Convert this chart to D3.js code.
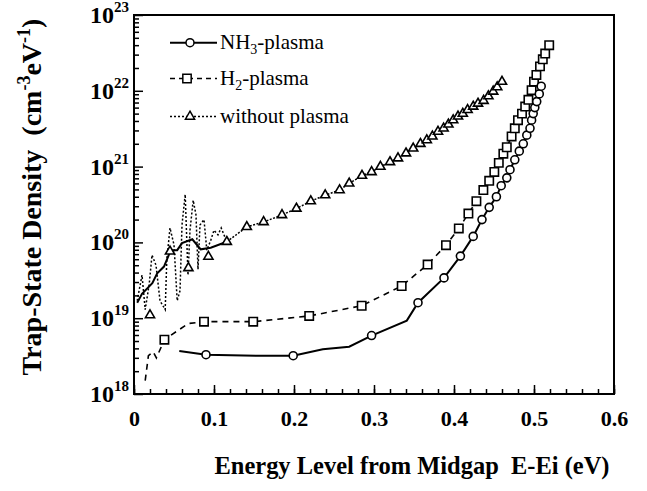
<!DOCTYPE html>
<meta charset="utf-8">
<body style="margin:0;background-color:white;">
<svg width="647" height="491"></svg>
<script src="https://cdnjs.cloudflare.com/ajax/libs/d3/7.8.5/d3.min.js"></script>
<script>

// NH3-plasma (solid line, circles on some points)
var nh3E = [0.0566, 0.09, 0.153, 0.199, 0.236, 0.269, 0.297, 0.341, 0.355, 0.3875, 0.408, 0.424, 0.435, 0.444,
            0.453, 0.459, 0.466, 0.470, 0.476, 0.4816, 0.4866, 0.491, 0.495, 0.497, 0.499, 0.501, 0.5034, 0.5066, 0.509];
var nh3N = [3.7e18, 3.3e18, 3.2e18, 3.2e18, 3.9e18, 4.2e18, 5.9e18, 9.3e18, 1.6e19, 3.4e19, 6.6e19, 1.2e20, 2.0e20, 2.9e20,
            4.0e20, 5.6e20, 7.1e20, 9.1e20, 1.23e21, 1.6e21, 2.0e21, 2.6e21, 3.2e21, 4.1e21, 5.0e21, 6.0e21, 7.2e21, 9.1e21, 1.15e22];
var nh3NoMarker = [0.0566, 0.153, 0.236, 0.269, 0.341];

// H2-plasma (dashed line, squares)
var h2E = [0.014, 0.018, 0.024, 0.028, 0.038, 0.055, 0.068, 0.0875, 0.149, 0.219, 0.2846, 0.3346, 0.367, 0.39, 0.406,
           0.418, 0.428, 0.4367, 0.444, 0.4504, 0.456, 0.4617, 0.466, 0.472, 0.476, 0.480, 0.485, 0.489, 0.493,
           0.497, 0.500, 0.503, 0.5075, 0.511, 0.514, 0.519];
var h2N = [1.5e18, 3.2e18, 3.6e18, 3.0e18, 5.2e18, 6.9e18, 8.5e18, 9.0e18, 9.0e18, 1.07e19, 1.46e19, 2.66e19, 5.1e19, 9.2e19, 1.53e20,
           2.4e20, 3.5e20, 4.9e20, 6.5e20, 8.5e20, 1.12e21, 1.48e21, 1.8e21, 2.5e21, 3.2e21, 4.1e21, 5.0e21, 6.2e21, 7.6e21,
           1.02e22, 1.32e22, 1.62e22, 2.1e22, 2.6e22, 3.1e22, 4.0e22];
var h2NoMarker = [0.014, 0.018, 0.024, 0.028, 0.055, 0.068];

// without plasma (dotted line, triangles)
var noE = [0.02, 0.045, 0.068, 0.093, 0.116, 0.141, 0.162, 0.185, 0.203, 0.221, 0.239, 0.257, 0.269, 0.285, 0.297,
           0.308, 0.320, 0.330, 0.340, 0.349, 0.358, 0.366, 0.373, 0.380, 0.387, 0.393, 0.399, 0.405, 0.411, 0.417,
           0.424, 0.430, 0.437, 0.443, 0.449, 0.454, 0.460];
var noN = [1.1e19, 7.6e19, 4.6e19, 6.5e19, 1.02e20, 1.6e20, 1.86e20, 2.3e20, 2.8e20, 3.5e20, 4.2e20, 4.9e20, 6.0e20, 7.6e20, 8.5e20,
           1.0e21, 1.15e21, 1.29e21, 1.5e21, 1.74e21, 2.0e21, 2.24e21, 2.5e21, 2.9e21, 3.2e21, 3.6e21, 4.1e21, 4.6e21, 5.0e21, 5.6e21,
           6.2e21, 6.8e21, 7.4e21, 8.5e21, 9.8e21, 1.12e22, 1.32e22];

// noisy low-energy part (dotted) and the short solid trace there
var noisyE = [0.004, 0.010, 0.014, 0.019, 0.0225, 0.0275, 0.0325, 0.039, 0.041, 0.045, 0.050, 0.054, 0.0575, 0.060, 0.064,
              0.0675, 0.070, 0.074, 0.0775, 0.080, 0.0825, 0.0875, 0.091, 0.096, 0.100, 0.105, 0.109, 0.116];
var noisyN = [1.7e19, 3.7e19, 1.3e19, 2.8e19, 6.8e19, 5.0e19, 1.7e19, 1.3e19, 5.9e19, 1.55e20, 9.3e19, 1.7e19, 2.3e19, 1.7e20, 4.3e20,
              3.7e19, 1.45e20, 3.6e20, 2.3e20, 4.4e19, 1.7e20, 2.0e20, 7.9e19, 1.07e20, 1.45e20, 1.26e20, 1.55e20, 1.02e20];
var solidE = [0.004, 0.010, 0.0229, 0.029, 0.0375, 0.046, 0.054, 0.060, 0.0729, 0.0834, 0.0959, 0.116];
var solidN = [1.6e19, 2.1e19, 2.9e19, 3.9e19, 4.8e19, 7.9e19, 7.9e19, 9.8e19, 1.1e20, 8.1e19, 8.5e19, 1.02e20];

var xTicks = [0, 0.1, 0.2, 0.3, 0.4, 0.5, 0.6];
var xTickLabels = ["0", "0.1", "0.2", "0.3", "0.4", "0.5", "0.6"];
var yExponents = [18, 19, 20, 21, 22, 23];
var legendNames = ["NH3-plasma", "H2-plasma", "without plasma"];

var svg = d3.select("svg");
var serif = "'Liberation Serif', 'Times New Roman', serif";

var x = d3.scaleLinear().domain([0, 0.6]).range([134, 614]);
var y = d3.scaleLog().domain([1e18, 1e23]).range([394, 15]);

// x axis, ticks pointing in
var xMinor = d3.range(0, 0.601, 0.02);
svg.append('g')
   .attr('transform', 'translate(0,394)')
   .call(d3.axisBottom(x).tickValues(xMinor).tickSize(-5).tickFormat(''))
   .call(function(g) { g.select('.domain').remove(); });
svg.append('g')
   .attr('transform', 'translate(0,394)')
   .call(d3.axisBottom(x).tickValues(xTicks).tickSize(-9).tickPadding(16)
          .tickFormat(function(d, i) { return xTickLabels[i]; }))
   .call(function(g) {
     g.select('.domain').remove();
     g.selectAll('text').attr('font-family', serif).attr('font-size', 22)
      .attr('font-weight', 'bold').attr('fill', 'black');
   });
svg.selectAll('.tick line').attr('stroke', 'black').attr('stroke-width', 1.5);

// y axis, log minors
var yMajor = yExponents.map(function(e) { return Math.pow(10, e); });
var yMinor = [];
yExponents.slice(0, -1).forEach(function(e) {
  for (var k = 2; k < 10; k++) yMinor.push(k * Math.pow(10, e));
});
svg.append('g')
   .attr('transform', 'translate(134,0)')
   .call(d3.axisLeft(y).tickValues(yMinor).tickSize(-5).tickFormat(''))
   .call(function(g) { g.select('.domain').remove(); });
svg.append('g')
   .attr('transform', 'translate(134,0)')
   .call(d3.axisLeft(y).tickValues(yMajor).tickSize(-9).tickFormat(''))
   .call(function(g) { g.select('.domain').remove(); });
svg.selectAll('.tick line').attr('stroke', 'black').attr('stroke-width', 1.5);

var yLab = svg.append('g').selectAll('text')
   .data(yExponents).enter().append('text')
   .attr('x', 129)
   .attr('y', function(d) { return y(Math.pow(10, d)) + 8; })
   .attr('text-anchor', 'end')
   .attr('font-family', serif).attr('font-weight', 'bold').attr('fill', 'black');
yLab.append('tspan').attr('font-size', 24).text('10');
yLab.append('tspan').attr('font-size', 15).attr('dy', -11).text(function(d) { return d; });

// frame
svg.append('rect')
   .attr('x', 134).attr('y', 15).attr('width', 480).attr('height', 379)
   .attr('fill', 'none').attr('stroke', 'black').attr('stroke-width', 2);

var line = d3.line().x(function(d) { return x(d[0]); }).y(function(d) { return y(d[1]); });
var plot = svg.append('g');

plot.append('path').datum(d3.zip(noisyE, noisyN)).attr('d', line)
    .attr('fill', 'none').attr('stroke', 'black').attr('stroke-width', 1.5).attr('stroke-dasharray', '2,2');
plot.append('path').datum(d3.zip(solidE, solidN)).attr('d', line)
    .attr('fill', 'none').attr('stroke', 'black').attr('stroke-width', 2);
plot.append('path').datum(d3.zip(noE, noN).slice(4)).attr('d', line)
    .attr('fill', 'none').attr('stroke', 'black').attr('stroke-width', 1.5).attr('stroke-dasharray', '2,1.5');
plot.append('path').datum(d3.zip(h2E, h2N)).attr('d', line)
    .attr('fill', 'none').attr('stroke', 'black').attr('stroke-width', 1.6).attr('stroke-dasharray', '6,5');
plot.append('path').datum(d3.zip(nh3E, nh3N)).attr('d', line)
    .attr('fill', 'none').attr('stroke', 'black').attr('stroke-width', 2);

var triangle = d3.symbol().type(d3.symbolTriangle).size(36);
var square = d3.symbol().type(d3.symbolSquare).size(70);

plot.selectAll('.tri').data(d3.zip(noE, noN)).enter().append('path')
    .attr('d', triangle)
    .attr('transform', function(d) { return 'translate(' + x(d[0]) + ',' + y(d[1]) + ')'; })
    .attr('fill', 'white').attr('stroke', 'black').attr('stroke-width', 1.6);
plot.selectAll('.sq').data(d3.zip(h2E, h2N).filter(function(d) { return h2NoMarker.indexOf(d[0]) < 0; }))
    .enter().append('path')
    .attr('d', square)
    .attr('transform', function(d) { return 'translate(' + x(d[0]) + ',' + y(d[1]) + ')'; })
    .attr('fill', 'white').attr('stroke', 'black').attr('stroke-width', 1.6);
plot.selectAll('.circ').data(d3.zip(nh3E, nh3N).filter(function(d) { return nh3NoMarker.indexOf(d[0]) < 0; }))
    .enter().append('circle')
    .attr('cx', function(d) { return x(d[0]); })
    .attr('cy', function(d) { return y(d[1]); })
    .attr('r', 4)
    .attr('fill', 'white').attr('stroke', 'black').attr('stroke-width', 1.6);

// legend
var legend = svg.append('g');
var rows = [42.7, 78.5, 116.5];
legend.append('line').attr('x1', 170).attr('x2', 217).attr('y1', rows[0]).attr('y2', rows[0])
      .attr('stroke', 'black').attr('stroke-width', 2);
legend.append('circle').attr('cx', 190).attr('cy', rows[0]).attr('r', 4)
      .attr('fill', 'white').attr('stroke', 'black').attr('stroke-width', 1.5);
legend.append('line').attr('x1', 170).attr('x2', 217).attr('y1', rows[1]).attr('y2', rows[1])
      .attr('stroke', 'black').attr('stroke-width', 1.6).attr('stroke-dasharray', '5,4');
legend.append('path').attr('d', square).attr('transform', 'translate(187,' + rows[1] + ')')
      .attr('fill', 'white').attr('stroke', 'black').attr('stroke-width', 1.5);
legend.append('line').attr('x1', 170).attr('x2', 217).attr('y1', rows[2]).attr('y2', rows[2])
      .attr('stroke', 'black').attr('stroke-width', 1.5).attr('stroke-dasharray', '2,2');
legend.append('path').attr('d', triangle).attr('transform', 'translate(190,' + rows[2] + ')')
      .attr('fill', 'white').attr('stroke', 'black').attr('stroke-width', 1.5);

var legTxt = legend.selectAll('text').data(legendNames).enter().append('text')
      .attr('x', 220).attr('y', function(d, i) { return rows[i] + 6; })
      .attr('font-family', serif).attr('font-size', 21).attr('fill', 'black');
legTxt.each(function(d) {
  var t = d3.select(this);
  var m = d.match(/^([A-Z]+)(\d)(.*)$/);
  if (m) {
    t.append('tspan').text(m[1]);
    t.append('tspan').attr('font-size', 14).attr('dy', 5).text(m[2]);
    t.append('tspan').attr('dy', -5).text(m[3]);
  } else {
    t.text(d);
  }
});

// axis titles
svg.append('text')
   .attr('x', 412).attr('y', 474)
   .attr('text-anchor', 'middle')
   .attr('font-family', serif).attr('font-size', 25).attr('font-weight', 'bold')
   .attr('textLength', 395).attr('lengthAdjust', 'spacingAndGlyphs')
   .style('white-space', 'pre')
   .text('Energy Level from Midgap  E-Ei (eV)');

var yt = svg.append('text')
   .attr('transform', 'translate(41,197) rotate(-90)')
   .attr('text-anchor', 'middle')
   .attr('font-family', serif).attr('font-size', 28).attr('font-weight', 'bold')
   .style('white-space', 'pre');
yt.append('tspan').text('Trap-State Density  (cm');
yt.append('tspan').attr('font-size', 18).attr('dy', -11).text('-3');
yt.append('tspan').attr('dy', 11).text('eV');
yt.append('tspan').attr('font-size', 18).attr('dy', -11).text('-1');
yt.append('tspan').attr('dy', 11).text(')');

</script>
</body>
